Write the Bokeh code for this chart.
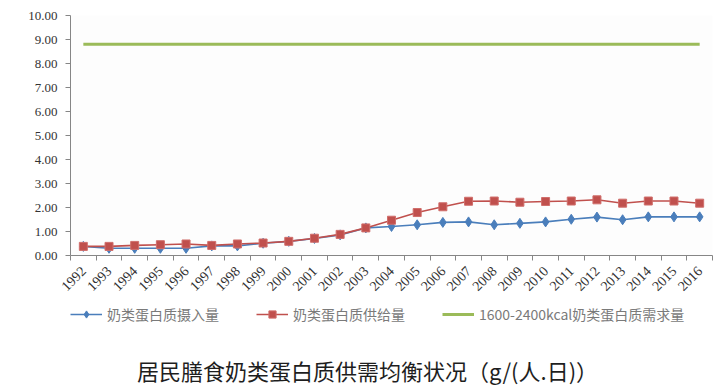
from bokeh.plotting import figure
from bokeh.layouts import column
from bokeh.models import (FixedTicker, Legend, LegendItem, Label, NumeralTickFormatter, Range1d)
from bokeh.embed import file_html
from bokeh.resources import INLINE

years = list(range(1992, 2017))
intake = [0.38, 0.30, 0.30, 0.30, 0.30, 0.40, 0.40, 0.51, 0.59, 0.71, 0.86, 1.15, 1.21, 1.28,
          1.38, 1.40, 1.28, 1.34, 1.40, 1.51, 1.60, 1.49, 1.61, 1.61, 1.61]
supply = [0.38, 0.38, 0.42, 0.45, 0.48, 0.42, 0.48, 0.52, 0.59, 0.72, 0.88, 1.15, 1.47, 1.79,
          2.03, 2.26, 2.27, 2.22, 2.25, 2.27, 2.32, 2.18, 2.27, 2.27, 2.18]
demand = [8.80] * len(years)
y_ticks = [0, 1, 2, 3, 4, 5, 6, 7, 8, 9, 10]

names = ["奶类蛋白质摄入量", "奶类蛋白质供给量", "1600-2400kcal奶类蛋白质需求量"]
title_text = "居民膳食奶类蛋白质供需均衡状况（g/(人.日)）"

BLUE = "#4a7ebb"
RED = "#c0504d"
GREEN = "#9bbb59"
SERIF = "Liberation Serif"


def styled(fig, target):
    g = fig.line(years, demand, line_color=GREEN, line_width=3)
    b1 = fig.line(years, intake, line_color=BLUE, line_width=1.6)
    b2 = fig.scatter(years, intake, marker="diamond", size=10 if target else 8,
                     fill_color=BLUE, line_color=BLUE)
    r1 = fig.line(years, supply, line_color=RED, line_width=1.6)
    r2 = fig.scatter(years, supply, marker="square", size=8 if target else 7,
                     fill_color=RED, line_color="#d06e6b")
    return g, b1, b2, r1, r2


p = figure(width=724, height=298, output_backend="svg", toolbar_location=None,
           x_range=Range1d(years[0] - 0.5, years[-1] + 0.5), y_range=Range1d(0, 10),
           min_border_left=70, min_border_right=12, min_border_top=15, min_border_bottom=42)
p.background_fill_color = "#fdfdfd"
p.border_fill_color = "#ffffff"
p.outline_line_color = None
p.grid.visible = False
styled(p, True)

# x axis: labels at year centers, tick marks between categories
xa = p.xaxis[0]
xa.ticker = FixedTicker(ticks=years, minor_ticks=[y - 0.5 for y in years] + [years[-1] + 0.5])
xa.major_label_overrides = {y: str(y) for y in years}
xa.major_tick_line_color = None
xa.minor_tick_in = 0
xa.minor_tick_out = 5
xa.minor_tick_line_color = "#868686"
xa.axis_line_color = "#868686"
xa.major_label_orientation = 0.785
xa.major_label_text_font = SERIF
xa.major_label_text_font_size = "14px"
xa.major_label_text_color = "#333333"
xa.major_label_standoff = 7

ya = p.yaxis[0]
ya.ticker = FixedTicker(ticks=y_ticks, minor_ticks=[])
ya.formatter = NumeralTickFormatter(format="0.00")
ya.major_tick_in = 0
ya.major_tick_out = 5
ya.major_tick_line_color = "#868686"
ya.axis_line_color = "#868686"
ya.major_label_text_font = SERIF
ya.major_label_text_font_size = "13px"
ya.major_label_text_color = "#333333"
ya.major_label_standoff = 8

# legend + caption figure; its frame is aligned with the main frame (x 70..712)
p2 = figure(width=724, height=90, output_backend="svg", toolbar_location=None,
            x_range=Range1d(70, 712), y_range=Range1d(0, 90),
            min_border_left=70, min_border_right=12, min_border_top=0, min_border_bottom=0,
            x_axis_location=None, y_axis_location=None)
p2.outline_line_color = None
p2.grid.visible = False
p2.background_fill_color = "#ffffff"
p2.border_fill_color = "#ffffff"
# same series (they fall outside this panel's range); used only for the legend swatches
lg, lb, mb, lr, mr = styled(p2, False)

legend = Legend(items=[LegendItem(label=names[0], renderers=[lb, mb]),
                       LegendItem(label=names[1], renderers=[lr, mr]),
                       LegendItem(label=names[2], renderers=[lg])],
                orientation="horizontal", location=(0, 64),
                label_text_font="Noto Sans CJK SC", label_text_font_size="14px",
                label_text_color="#7a7a7a", glyph_width=32, glyph_height=18,
                spacing=37, label_standoff=5, padding=0, margin=0,
                border_line_color=None, background_fill_alpha=0)
p2.add_layout(legend, "center")

title = Label(x=367, y=19, text=title_text,
              text_align="center", text_baseline="middle", text_font="Noto Sans CJK SC",
              text_font_size="22px", text_color="#1e1e1e")
p2.add_layout(title)

layout = column(p, p2, spacing=0)
open("out.html", "w").write(file_html(layout, INLINE))
